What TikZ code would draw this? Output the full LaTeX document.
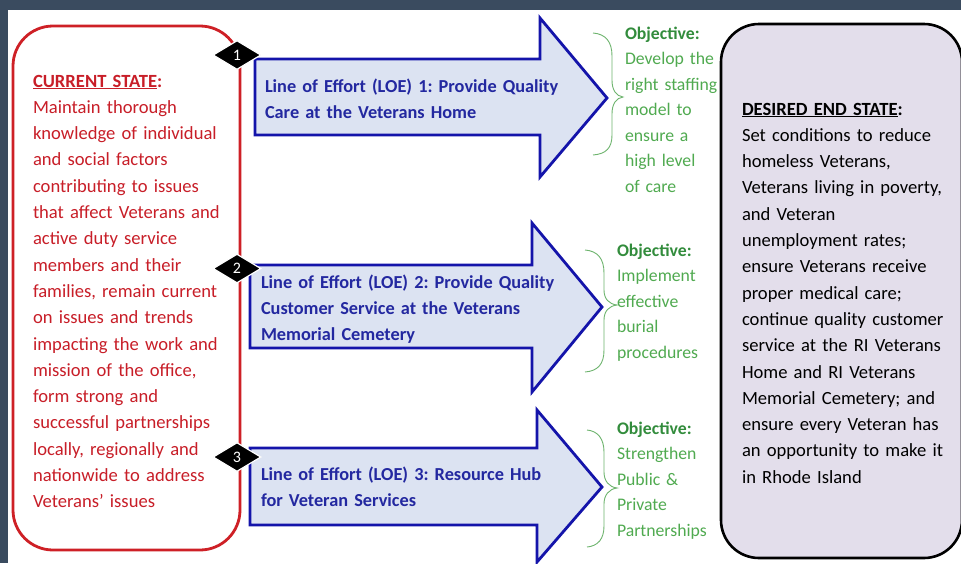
\documentclass[tikz,border=0pt]{standalone}
\usepackage{fontspec}
\setmainfont{Carlito}
\frenchspacing
\usetikzlibrary{shapes.geometric}
\definecolor{bgdark}{RGB}{58,75,95}
\definecolor{redline}{RGB}{206,32,38}
\definecolor{redtxt}{RGB}{200,30,40}
\definecolor{blueline}{RGB}{20,20,170}
\definecolor{bluefill}{RGB}{220,227,242}
\definecolor{bluetxt}{RGB}{35,40,160}
\definecolor{greentxt}{RGB}{80,170,80}
\definecolor{greenbold}{RGB}{50,140,60}
\definecolor{bracegreen}{RGB}{110,180,110}
\definecolor{purplefill}{RGB}{227,222,235}
\tikzset{
  blocktxt/.style={inner sep=0pt, outer sep=0pt, anchor=base west, text width=#1, align=left},
  blocktxt/.default=230pt,
  maintxt/.style={font=\fontsize{18.6}{26.3}\selectfont},
  lowtxt/.style={font=\bfseries\fontsize{18.3}{26.3}\selectfont, text=bluetxt},
  objtxt/.style={font=\fontsize{17.7}{25.5}\selectfont, text=greentxt},
  bigarrow/.style={draw=blueline, fill=bluefill, line width=2.8pt, line join=miter},
  bracepath/.style={draw=bracegreen, line width=0.9pt},
  numdiamond/.style={diamond, fill=black, draw=white, line width=1.2pt, aspect=1.68,
    minimum width=48pt, minimum height=29pt, inner sep=0pt, text=white,
    font=\fontsize{16}{16}\selectfont}
}
\begin{document}
\begin{tikzpicture}[x=1pt,y=-1pt]
\useasboundingbox (0,0) rectangle (961,563);
% frame
\fill[bgdark] (0,0) rectangle (961,563);
\fill[white] (8,10) rectangle (961,563);
% current state box
\draw[redline, line width=2.8pt, rounded corners=40pt] (13,26) rectangle (240,550);
\node[blocktxt, maintxt, text=redtxt] (cur) at (33,87)
 {\textbf{\underline{CURRENT STATE}:}\\
  Maintain thorough\\
  knowledge of individual\\
  and social factors\\
  contributing to issues\\
  that affect Veterans and\\
  active duty service\\
  members and their\\
  families, remain current\\
  on issues and trends\\
  impacting the work and\\
  mission of the office,\\
  form strong and\\
  successful partnerships\\
  locally, regionally and\\
  nationwide to address\\
  Veterans’ issues};
% desired end state box
\begin{scope}
\clip (0,0) rectangle (961,563);
\draw[black, fill=purplefill, line width=2.6pt, rounded corners=38pt] (721,24) rectangle (962,558);
\end{scope}
\node[blocktxt, maintxt, text=black] (des) at (742,115)
 {\textbf{\underline{DESIRED END STATE}:}\\
  Set conditions to reduce\\
  homeless Veterans,\\
  Veterans living in poverty,\\
  and Veteran\\
  unemployment rates;\\
  ensure Veterans receive\\
  proper medical care;\\
  continue quality customer\\
  service at the RI Veterans\\
  Home and RI Veterans\\
  Memorial Cemetery; and\\
  ensure every Veteran has\\
  an opportunity to make it\\
  in Rhode Island};
% arrows
\path[bigarrow] (255,59) -- (540,59) -- (540,18) -- (607,98) -- (540,177) -- (540,135) -- (255,135) -- cycle;
\path[bigarrow] (250,265) -- (532,265) -- (532,223) -- (602,307) -- (532,392) -- (532,348) -- (250,348) -- cycle;
\path[bigarrow] (250,448) -- (537,448) -- (537,410) -- (602,487) -- (537,562) -- (537,525) -- (250,525) -- cycle;
\node[blocktxt=360pt, lowtxt] (loe1) at (265,92)
 {Line of Effort (LOE) 1: Provide Quality\\Care at the Veterans Home};
\node[blocktxt=360pt, lowtxt] (loe2) at (261,288)
 {Line of Effort (LOE) 2: Provide Quality\\Customer Service at the Veterans\\Memorial Cemetery};
\node[blocktxt=360pt, lowtxt] (loe3) at (261,480)
 {Line of Effort (LOE) 3: Resource Hub\\for Veteran Services};
% diamonds
\node[numdiamond] (d1) at (237,55) {1};
\node[numdiamond] (d2) at (237,268.5) {2};
\node[numdiamond] (d3) at (237,457) {3};
% braces
\path[bracepath] (593,33) .. controls (606,34) and (612,42) .. (612,56) -- (612,80)
  .. controls (612,90) and (616,96) .. (623,97)
  .. controls (616,98) and (612,104) .. (612,114) -- (612,135)
  .. controls (612,148) and (606,154) .. (593,155);
\path[bracepath] (585,250) .. controls (598,251) and (604,259) .. (604,273) -- (604,290)
  .. controls (604,299) and (609,304) .. (617,305)
  .. controls (609,306) and (604,311) .. (604,320) -- (604,350)
  .. controls (604,364) and (598,371) .. (585,372);
\path[bracepath] (587,430) .. controls (598,431) and (604,439) .. (604,452) -- (604,472)
  .. controls (604,481) and (609,487) .. (617,488)
  .. controls (609,489) and (604,495) .. (604,504) -- (604,526)
  .. controls (604,539) and (598,546) .. (587,547);
% objectives
\node[blocktxt=120pt, objtxt] (obj1) at (625,39)
 {\textcolor{greenbold}{\textbf{Objective:}}\\Develop the\\right staffing\\model to\\ensure a\\high level\\of care};
\node[blocktxt=120pt, objtxt] (obj2) at (617,256)
 {\textcolor{greenbold}{\textbf{Objective:}}\\Implement\\effective\\burial\\procedures};
\node[blocktxt=120pt, objtxt] (obj3) at (617,434)
 {\textcolor{greenbold}{\textbf{Objective:}}\\Strengthen\\Public \&\\Private\\Partnerships};
\end{tikzpicture}
\end{document}
